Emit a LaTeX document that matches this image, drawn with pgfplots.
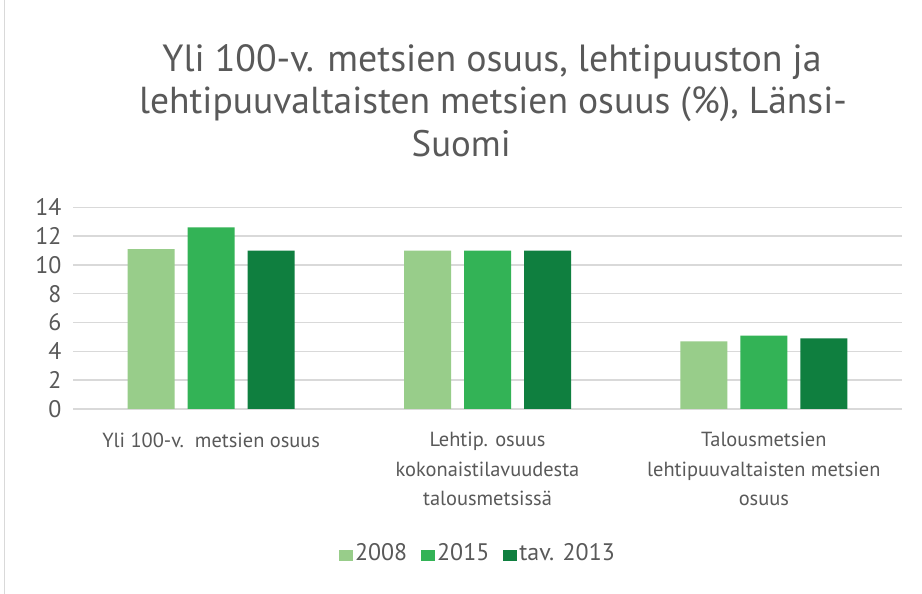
\documentclass[border=0pt]{standalone}
\usepackage{fontspec}
\setmainfont{PT Sans}
\usepackage{pgfplots}
\pgfplotsset{compat=1.18}
\definecolor{cA}{HTML}{98CD8A}
\definecolor{cB}{HTML}{33B356}
\definecolor{cC}{HTML}{0F7F3F}
\definecolor{txt}{HTML}{595959}
\definecolor{gridc}{HTML}{D9D9D9}
\begin{document}
\begin{tikzpicture}[x=1bp,y=1bp]
\useasboundingbox (0,0) rectangle (922,594);
\fill[white] (0,0) rectangle (922,594);
\draw[gridc, line width=1bp] (4,0) -- (4,594);
\node[text=txt, font=\fontsize{38}{40}\selectfont, anchor=base] at (492,594-72) {Yli 100-v. metsien osuus, lehtipuuston ja};
\node[text=txt, font=\fontsize{37.7}{40}\selectfont, anchor=base] at (493,594-114) {lehtipuuvaltaisten metsien osuus (\%), Länsi-};
\node[text=txt, font=\fontsize{37}{40}\selectfont, anchor=base west, inner sep=0pt] at (411.5,594-157) {Suomi};
\begin{axis}[
  at={(73bp,185bp)}, anchor=south west, scale only axis,
  width=829bp, height=201.7bp,
  xmin=-0.5, xmax=2.5, ymin=0, ymax=14,
  ytick={0,2,...,14}, xtick={0,1,2},
  xticklabels={{Yli 100-v.\ \ metsien osuus},{Lehtip. osuus\\kokonaistilavuudesta\\talousmetsissä},{Talousmetsien\\lehtipuuvaltaisten metsien\\osuus}},
  xticklabel style={align=center, text=txt, font=\fontsize{20.5}{29.5}\selectfont, yshift=-20bp},
  yticklabel style={text=txt, font=\fontsize{24}{26}\selectfont, xshift=-8bp},
  /pgf/number format/assume math mode=true,
  ymajorgrids, grid style={gridc, line width=1.5bp},
  axis line style={draw=none},
  major tick length=0pt,
  ybar=13bp, bar width=47bp,
  legend style={at={(0.4885,-0.714)}, anchor=center, draw=none, legend columns=3, font=\fontsize{24}{26}\selectfont, text=txt, inner sep=0pt, /tikz/every even column/.append style={column sep=12bp}},
  legend image code/.code={\fill[#1] (0bp,-8bp) rectangle (14bp,3bp);},
]
\addplot[fill=cA, draw=none] coordinates {(0,11.1) (1,11.0) (2,4.7)};
\addplot[fill=cB, draw=none] coordinates {(0,12.6) (1,11.0) (2,5.1)};
\addplot[fill=cC, draw=none] coordinates {(0,11.0) (1,11.0) (2,4.9)};
\legend{2008,2015,tav. 2013}
\end{axis}
\end{tikzpicture}
\end{document}
